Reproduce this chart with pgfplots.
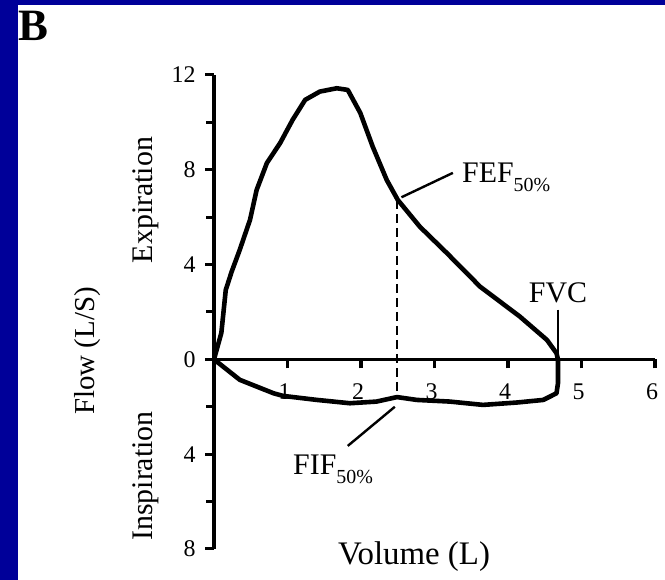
\documentclass[border=0pt]{standalone}
\usepackage{pgfplots}
\pgfplotsset{compat=1.18}
\usepackage{fontspec}
\setmainfont{Liberation Serif}
\definecolor{slideblue}{RGB}{0,0,153}
\newcommand\lab{\fontsize{30}{34}\selectfont}
\newcommand\tck{\fontsize{24}{26}\selectfont}
\newcommand\sub[1]{\raisebox{-0.3em}{\fontsize{20}{22}\selectfont #1}}

\begin{document}
\begin{tikzpicture}[x=1bp,y=1bp]
  \fill[white] (0,0) rectangle (665,580);
  \fill[slideblue] (0,0) rectangle (17.7,580);
  \fill[slideblue] (0,575) rectangle (665,580);
  \node[anchor=base west, inner sep=0, font=\fontsize{45}{48}\selectfont\bfseries] at (18,539) {B};

  \begin{axis}[
      at={(214bp,31bp)}, anchor=south west,
      scale only axis,
      width=441bp, height=474bp,
      xmin=0, xmax=6, ymin=-8, ymax=12,
      enlargelimits=false,
      clip=false,
      axis x line*=middle,
      axis y line*=left,
      axis line style={line width=3.2bp},
      xtick={1,2,3,4,5,6},
      xticklabels={1,2,3,4,5,6},
      ytick={-8,-4,0,4,8,12},
      yticklabels={8,4,0,4,8,12},
      minor ytick={-6,-2,2,6,10},
      tick align=outside,
      major tick length=9bp,
      minor tick length=8bp,
      every tick/.style={black, line width=3bp},
      x tick style={line width=3.2bp},
      xticklabel style={font=\tck, yshift=-12bp, xshift=-3bp},
      yticklabel style={font=\tck, xshift=-6bp},
    ]
    % expiratory limb
    \addplot[black, line width=4.6bp, line join=round, line cap=round] coordinates {
      (0,0) (0.10,1.12) (0.16,2.93) (0.24,3.70) (0.35,4.62) (0.49,5.89)
      (0.58,7.15) (0.72,8.29) (0.90,9.13) (1.07,10.11) (1.24,10.95)
      (1.44,11.30) (1.67,11.44) (1.82,11.37) (1.99,10.40) (2.16,8.97)
      (2.35,7.57) (2.50,6.73) (2.80,5.60) (3.17,4.48) (3.62,3.07)
      (4.16,1.81) (4.53,0.82) (4.66,0.26) (4.68,0)
    };
    % inspiratory limb
    \addplot[black, line width=4.6bp, line join=round, line cap=round] coordinates {
      (0,0) (0.35,-0.86) (0.81,-1.43) (0.94,-1.54) (1.40,-1.71) (1.85,-1.85)
      (2.21,-1.78) (2.49,-1.59) (2.76,-1.71) (3.21,-1.78) (3.66,-1.92)
      (4.12,-1.82) (4.48,-1.71) (4.66,-1.43) (4.68,-1.00) (4.68,-0.44) (4.68,0)
    };
    % annotations
    \draw[black, line width=2bp, dash pattern=on 9bp off 5bp] (axis cs:2.49,6.73) -- (axis cs:2.49,-1.6);
    \draw[black, line width=2.4bp] (axis cs:2.55,6.84) -- (axis cs:3.25,7.87);
    \draw[black, line width=2.4bp] (axis cs:2.46,-2.0) -- (axis cs:1.82,-3.65);
    \draw[black, line width=2.4bp] (axis cs:4.68,2.1) -- (axis cs:4.68,0.2);
  \end{axis}

  \node[anchor=base west, inner sep=0, font=\lab] at (462,397) {FEF\sub{50\%}};
  \node[anchor=base west, inner sep=0, font=\lab] at (293,105) {FIF\sub{50\%}};
  \node[anchor=base, inner sep=0, font=\lab] at (558,277) {FVC};
  \node[rotate=90, inner sep=0, font=\fontsize{29}{32}\selectfont] at (88,229) {Flow (L/S)};
  \node[rotate=90, inner sep=0, font=\lab] at (146,380) {Expiration};
  \node[rotate=90, inner sep=0, font=\lab] at (146,104) {Inspiration};
  \node[inner sep=0, font=\fontsize{33}{36}\selectfont] at (414,23) {Volume (L)};

  \pgfresetboundingbox
  \useasboundingbox (0,0) rectangle (665,580);
\end{tikzpicture}
\end{document}
